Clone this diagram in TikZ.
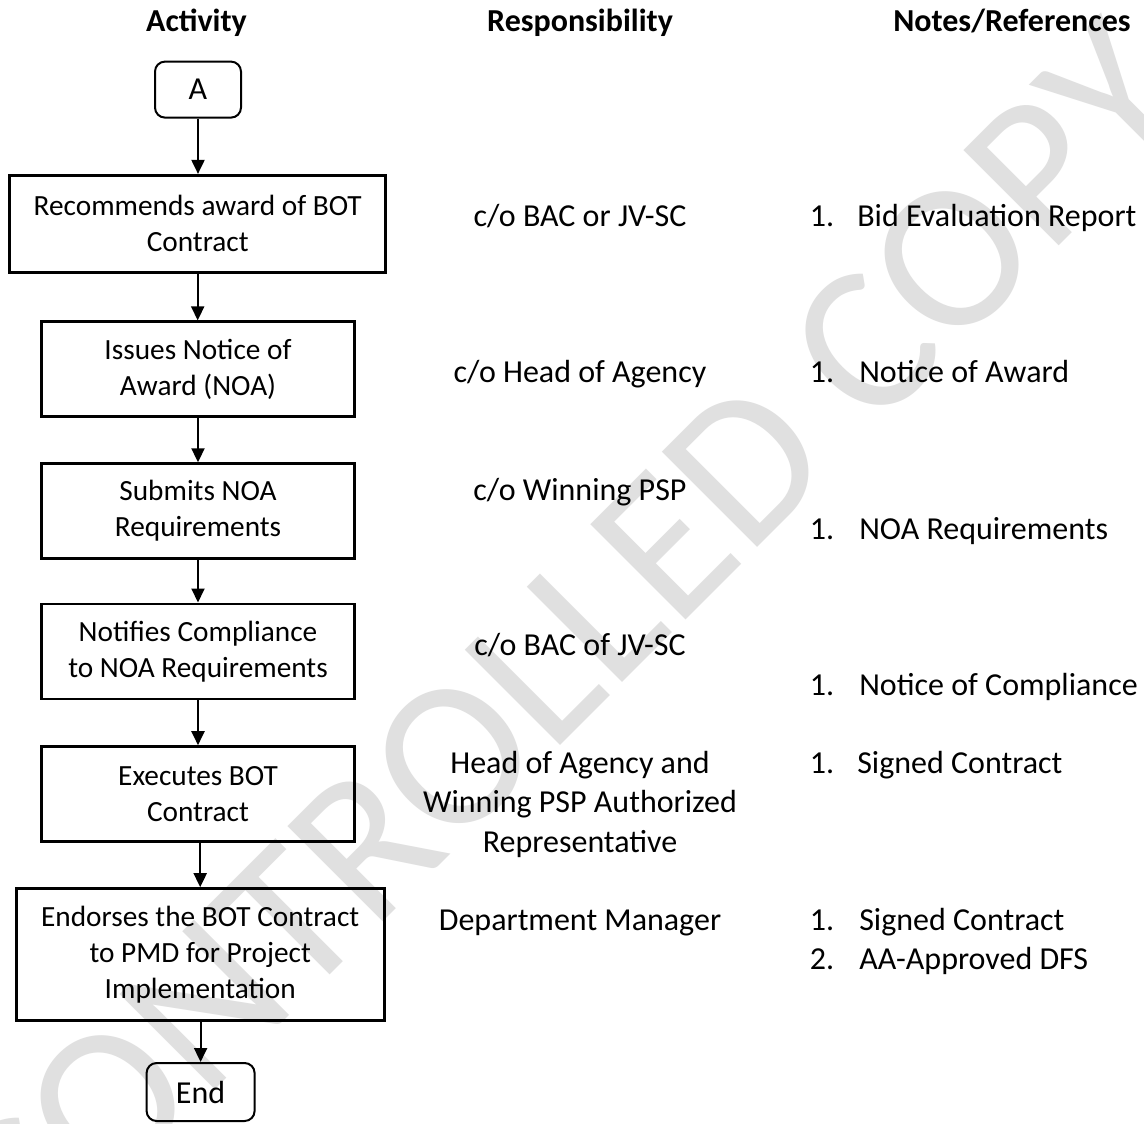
\documentclass[tikz,border=0pt]{standalone}
\usepackage{fontspec}
\setmainfont{Carlito}
\newfontfamily\wmfamily{Carlito}
\usetikzlibrary{arrows.meta}
\newcommand\boxfnt{\fontsize{29.3}{36}\selectfont}
\newcommand\colfnt{\fontsize{32}{39.4}\selectfont}
\newcommand\hdrfnt{\fontsize{32}{39.4}\selectfont\bfseries}
\newcommand\wmfnt{\wmfamily\fontsize{210}{250}\selectfont}
\definecolor{wmgray}{HTML}{E0E0E0}
\begin{document}
\begin{tikzpicture}[x=1pt,y=-1pt,
  proc/.style={draw, line width=2.6pt, align=center, font=\boxfnt, inner sep=0pt},
  term/.style={draw, line width=2pt, rounded corners=10pt, align=center, font=\colfnt, inner sep=0pt},
  arr/.style={line width=2pt, -{Triangle[length=14pt,width=13pt]}},
  hdr/.style={font=\hdrfnt, anchor=base, inner sep=0pt},
  resp/.style={font=\colfnt, anchor=base, align=center, inner sep=0pt},
  note/.style={font=\colfnt, anchor=base west, inner sep=0pt}
]
\useasboundingbox (0,0) rectangle (1144,1124);
\fill[white] (0,0) rectangle (1144,1124);

% watermark
\begin{scope}
\clip (0,0) rectangle (1144,1124);
\node[font=\wmfnt, text=wmgray, rotate=45, inner sep=0pt] (wm) at (565,645) {CONTROLLED COPY};
\end{scope}

% headers
\node[hdr] (h1) at (196.5,31.5) {Activity};
\node[hdr] (h2) at (580,31.5) {Responsibility};
\node[hdr] (h3) at (1012,31.5) {Notes/References};

% activity flow
\node[term, minimum width=86pt, minimum height=56pt] (a) at (198,89.6) {A};
\node[proc, minimum width=376pt, minimum height=97pt] (b1) at (197.7,223.7) {Recommends award of BOT\\Contract};
\node[proc, minimum width=313pt, minimum height=95pt] (b2) at (198,369.2) {Issues Notice of\\Award (NOA)};
\node[proc, minimum width=313pt, minimum height=95pt] (b3) at (198,511.1) {Submits NOA\\Requirements};
\node[proc, minimum width=313pt, minimum height=95pt] (b4) at (198,651.3) {Notifies Compliance\\to NOA Requirements};
\node[proc, minimum width=313pt, minimum height=95pt] (b5) at (198,794) {Executes BOT\\Contract};
\node[proc, minimum width=368pt, minimum height=132pt] (b6) at (200.2,954.5) {Endorses the BOT Contract\\to PMD for Project\\Implementation};
\node[term, minimum width=108pt, minimum height=58pt] (e) at (200.6,1092) {End};

\draw[arr] (a.south) -- (a.south |- b1.north);
\draw[arr] (b1.south) -- (b1.south |- b2.north);
\draw[arr] (b2.south) -- (b2.south |- b3.north);
\draw[arr] (b3.south) -- (b3.south |- b4.north);
\draw[arr] (b4.south) -- (b4.south |- b5.north);
\draw[arr] (b5.south -| b6.north) -- (b6.north);
\draw[arr] (b6.south -| e.north) -- (e.north);

% responsibility
\node[resp] (r1) at (580,226) {c/o BAC or JV-SC};
\node[resp] (r2) at (580,382) {c/o Head of Agency};
\node[resp] (r3) at (580,500) {c/o Winning PSP};
\node[resp] (r4) at (580,655) {c/o BAC of JV-SC};
\node[resp] (r5) at (580,852) {Head of Agency and\\Winning PSP Authorized\\Representative};
\node[resp] (r6) at (580,930) {Department Manager};

% notes
\node[note] (n1) at (809.6,226) {\makebox[47.5pt][l]{1.}Bid Evaluation Report};
\node[note] (n2) at (809.6,382) {\makebox[49.5pt][l]{1.}Notice of Award};
\node[note] (n3) at (809.6,539) {\makebox[49.5pt][l]{1.}NOA Requirements};
\node[note] (n4) at (809.6,695) {\makebox[49.5pt][l]{1.}Notice of Compliance};
\node[note] (n5) at (809.6,773) {\makebox[47.5pt][l]{1.}Signed Contract};
\node[note] (n6) at (809.6,930) {\makebox[49.5pt][l]{1.}Signed Contract};
\node[note] (n7) at (809.6,969.4) {\makebox[49.5pt][l]{2.}AA-Approved DFS};
\end{tikzpicture}
\end{document}
